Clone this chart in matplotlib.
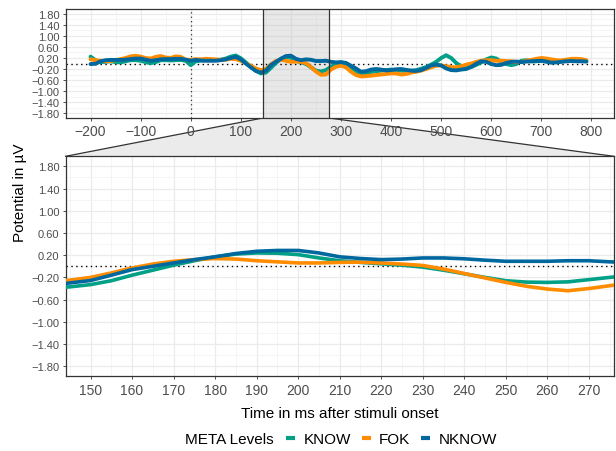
import numpy as np
import matplotlib
matplotlib.use("Agg")
import matplotlib.pyplot as plt
from matplotlib.patches import Polygon
from matplotlib.lines import Line2D

plt.rcParams['font.family'] = ['Liberation Sans', 'DejaVu Sans']

# ---- data: whole epoch, 10 ms steps ----
time_full = np.arange(-200, 800, 10)

know_full = [
    0.25, 0.12, 0.05, 0.06, 0.08, 0.05, 0.04, 0.08, 0.12, 0.12,
    0.10, 0.05, 0.01, 0.05, 0.12, 0.12, 0.11, 0.12, 0.13, 0.10,
    -0.06, 0.08, 0.11, 0.12, 0.13, 0.12, 0.14, 0.18, 0.25, 0.29,
    0.19, 0.04, -0.12, -0.26, -0.36, -0.33, -0.16, 0.02, 0.17, 0.24,
    0.21, 0.10, 0.045, -0.015, -0.135, -0.26, -0.29, -0.24, -0.12, -0.02,
    0.04, 0.00, -0.14, -0.28, -0.40, -0.38, -0.31, -0.28, -0.26, -0.24,
    -0.22, -0.24, -0.26, -0.27, -0.26, -0.24, -0.19, -0.13, -0.04, 0.06,
    0.20, 0.30, 0.20, 0.02, -0.10, -0.14, -0.13, -0.05, 0.04, 0.15,
    0.22, 0.18, 0.06, -0.02, -0.06, -0.02, 0.10, 0.12, 0.08, 0.08,
    0.10, 0.07, 0.05, 0.08, 0.10, 0.10, 0.11, 0.12, 0.12, 0.10,
]
fok_full = [
    0.15, 0.12, 0.10, 0.08, 0.09, 0.12, 0.16, 0.20, 0.26, 0.28,
    0.25, 0.20, 0.18, 0.24, 0.27, 0.22, 0.20, 0.26, 0.24, 0.14,
    0.13, 0.16, 0.15, 0.17, 0.16, 0.15, 0.13, 0.14, 0.17, 0.16,
    0.10, 0.00, -0.08, -0.18, -0.24, -0.20, -0.03, 0.09, 0.14, 0.10,
    0.06, 0.07, 0.06, 0.015, -0.13, -0.29, -0.41, -0.40, -0.22, -0.12,
    -0.08, -0.14, -0.30, -0.42, -0.47, -0.46, -0.44, -0.42, -0.40, -0.38,
    -0.36, -0.36, -0.40, -0.38, -0.33, -0.30, -0.26, -0.20, -0.14, -0.08,
    -0.07, -0.10, -0.13, -0.14, -0.10, -0.04, 0.00, 0.06, 0.10, 0.12,
    0.12, 0.10, 0.10, 0.09, 0.08, 0.05, 0.06, 0.10, 0.13, 0.17,
    0.20, 0.18, 0.15, 0.12, 0.11, 0.14, 0.17, 0.17, 0.16, 0.12,
]
nknow_full = [
    -0.02, -0.01, 0.08, 0.12, 0.13, 0.13, 0.13, 0.14, 0.16, 0.18,
    0.18, 0.14, 0.10, 0.12, 0.15, 0.16, 0.16, 0.17, 0.17, 0.14,
    0.10, 0.13, 0.11, 0.10, 0.10, 0.10, 0.12, 0.15, 0.20, 0.24,
    0.15, 0.00, -0.14, -0.27, -0.33, -0.26, -0.06, 0.06, 0.17, 0.27,
    0.285, 0.17, 0.12, 0.15, 0.135, 0.09, 0.09, 0.10, 0.06, 0.04,
    0.05, 0.02, -0.08, -0.18, -0.30, -0.28, -0.22, -0.20, -0.22, -0.25,
    -0.24, -0.21, -0.20, -0.23, -0.26, -0.27, -0.24, -0.16, -0.07, -0.04,
    -0.07, -0.18, -0.24, -0.25, -0.22, -0.20, -0.12, -0.01, 0.08, 0.06,
    -0.02, -0.06, -0.05, 0.02, 0.06, 0.07, 0.05, 0.07, 0.08, 0.09,
    0.10, 0.07, 0.03, 0.04, 0.06, 0.08, 0.09, 0.08, 0.08, 0.07,
]

# ---- data: zoomed window, 5 ms steps ----
time_zoom = np.arange(140, 285, 5)
know_zoom = [
    -0.40, -0.37, -0.33, -0.26, -0.16, -0.07, 0.02, 0.10, 0.17, 0.22,
    0.24, 0.235, 0.21, 0.15, 0.10, 0.07, 0.045, 0.02, -0.015, -0.07,
    -0.135, -0.20, -0.26, -0.285, -0.29, -0.28, -0.24, -0.20, -0.16,
]
fok_zoom = [
    -0.28, -0.25, -0.20, -0.12, -0.03, 0.04, 0.09, 0.12, 0.14, 0.13,
    0.10, 0.08, 0.06, 0.06, 0.07, 0.075, 0.06, 0.04, 0.015, -0.05,
    -0.13, -0.21, -0.29, -0.36, -0.41, -0.44, -0.40, -0.35, -0.30,
]
nknow_zoom = [
    -0.34, -0.30, -0.256, -0.16, -0.06, 0.00, 0.06, 0.12, 0.17, 0.23,
    0.27, 0.285, 0.285, 0.24, 0.17, 0.14, 0.12, 0.13, 0.15, 0.15,
    0.135, 0.11, 0.09, 0.09, 0.09, 0.10, 0.10, 0.08, 0.07,
]

levels = ["KNOW", "FOK", "NKNOW"]
colors = ["#00A087", "#FF8C00", "#00689E"]
zoom_window = (144, 276)

y_ticks = np.arange(-1.8, 1.81, 0.4)
y_labels = [f"{v:.2f}".replace("-", "\u2212") for v in y_ticks]

fig = plt.figure(figsize=(6.16, 4.52), dpi=100)
ax_top = fig.add_axes([0.1065, 0.7367, 0.890, 0.2412])
ax_low = fig.add_axes([0.1065, 0.1653, 0.890, 0.4867])


def style_axis(ax):
    ax.set_facecolor("white")
    ax.grid(which="major", color="#EBEBEB", linewidth=0.9, zorder=0)
    ax.grid(which="minor", color="#F2F2F2", linewidth=0.5, zorder=0)
    ax.set_axisbelow(True)
    for sp in ax.spines.values():
        sp.set_color("#333333")
        sp.set_linewidth(0.9)
    ax.tick_params(which="major", length=2.5, color="#333333", width=0.6,
                   labelcolor="#4D4D4D", labelsize=10, pad=2)
    ax.tick_params(which="minor", length=0)
    ax.tick_params(axis="y", labelsize=8)
    ax.set_yticks(y_ticks)
    ax.set_yticklabels(y_labels)
    ax.set_yticks(np.arange(-2.0, 2.01, 0.4), minor=True)
    ax.set_ylim(-1.98, 1.98)
    ax.axhline(0, color="black", linestyle=(0, (1, 2.5)), linewidth=1.0, zorder=2)


# top overview panel
style_axis(ax_top)
for vals, col in zip([know_full, fok_full, nknow_full], colors):
    ax_top.plot(time_full, vals, color=col, linewidth=2.8, zorder=3,
                solid_capstyle="round")
ax_top.axvline(0, color="#333333", linestyle=(0, (1, 2.5)), linewidth=0.9, zorder=2)
ax_top.axvspan(*zoom_window, facecolor="#B3B3B3", alpha=0.3, edgecolor="none", zorder=1)
for xv in zoom_window:
    ax_top.axvline(xv, color="#333333", linewidth=0.9, zorder=4)
x_top = np.arange(-200, 801, 100)
ax_top.set_xticks(x_top)
ax_top.set_xticklabels([str(v).replace("-", "\u2212") for v in x_top])
ax_top.set_xticks(np.arange(-250, 851, 100), minor=True)
ax_top.set_xlim(-249.75, 844.75)

# zoomed panel
style_axis(ax_low)
for vals, col in zip([know_zoom, fok_zoom, nknow_zoom], colors):
    ax_low.plot(time_zoom, vals, color=col, linewidth=2.6, zorder=3)
ax_low.set_xticks(np.arange(150, 271, 10))
ax_low.set_xticks(np.arange(145, 280, 10), minor=True)
ax_low.set_xlim(*zoom_window)
ax_low.set_xlabel("Time in ms after stimuli onset", fontsize=11, labelpad=7)

# connector between the panels, drawn underneath the axes
to_fig = fig.transFigure.inverted()
ylo = ax_top.get_ylim()[0]
p1 = to_fig.transform(ax_top.transData.transform((zoom_window[0], ylo)))
p2 = to_fig.transform(ax_top.transData.transform((zoom_window[1], ylo)))
q1 = to_fig.transform(ax_low.transAxes.transform((0, 1)))
q2 = to_fig.transform(ax_low.transAxes.transform((1, 1)))
fig.patches.append(Polygon([p1, p2, q2, q1], closed=True, transform=fig.transFigure,
                           facecolor="#EBEBEB", edgecolor="none", zorder=-2))
fig.lines.append(Line2D([p1[0], q1[0]], [p1[1], q1[1]], transform=fig.transFigure,
                        color="#333333", linewidth=0.9, zorder=-1))
fig.lines.append(Line2D([p2[0], q2[0]], [p2[1], q2[1]], transform=fig.transFigure,
                        color="#333333", linewidth=0.9, zorder=-1))

fig.text(20 / 616, 1 - 193 / 452, "Potential in \u00b5V", rotation=90,
         ha="center", va="center", fontsize=11)

# legend
fig.text(229 / 616, 1 - 440 / 452, "META Levels", ha="center", va="center", fontsize=11)
handles = [Line2D([], [], color=c, linewidth=3, solid_capstyle="butt") for c in colors]
fig.legend(handles, levels, loc="center left", bbox_to_anchor=(286 / 616, 1 - 440 / 452),
           ncol=3, frameon=False, fontsize=11, handlelength=0.6, handletextpad=0.55,
           columnspacing=0.7, borderaxespad=0, borderpad=0)

fig.savefig("out.png", dpi=100)
